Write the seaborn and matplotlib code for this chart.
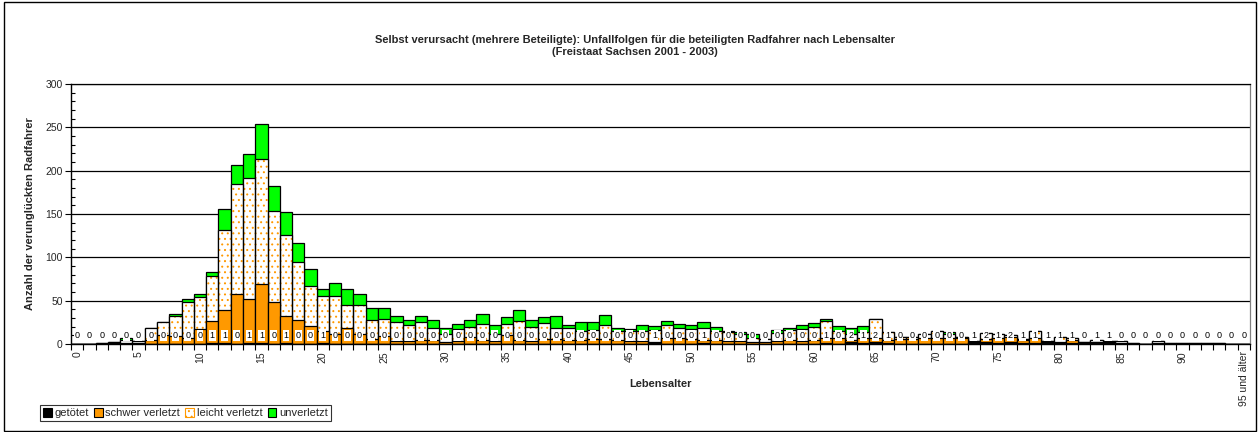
import numpy as np
import pandas as pd
import matplotlib
matplotlib.use("Agg")
import matplotlib.pyplot as plt
import seaborn as sns
from matplotlib.patches import Patch, Rectangle
from matplotlib.ticker import MultipleLocator

# ---------------- data ----------------
categories = [str(i) for i in range(95)] + ["95 und älter"]

getoetet = [0, 0, 0, 0, 0, 0, 0, 0, 0, 0,
            0, 1, 1, 0, 1, 1, 0, 1, 0, 0,
            1, 0, 0, 0, 0, 0, 0, 0, 0, 0,
            0, 0, 0, 0, 0, 0, 0, 0, 0, 0,
            0, 0, 0, 0, 0, 0, 0, 1, 0, 0,
            0, 1, 0, 0, 0, 0, 0, 0, 0, 0,
            0, 1, 0, 2, 1, 2, 1, 0, 0, 0,
            0, 0, 0, 1, 2, 1, 2, 1, 1, 1,
            1, 1, 0, 1, 1, 0, 0, 0, 0, 0,
            0, 0, 0, 0, 0, 0]

schwer = [0, 0, 0, 1, 1, 1, 5, 10, 9, 7,
          17, 25, 38, 58, 51, 68, 48, 31, 28, 21,
          14, 11, 18, 11, 6, 9, 4, 4, 5, 5,
          2, 4, 8, 5, 3, 10, 5, 4, 6, 6,
          5, 5, 6, 6, 5, 4, 3, 1, 7, 7,
          6, 4, 5, 4, 3, 2, 2, 4, 5, 4,
          5, 6, 7, 3, 6, 5, 4, 6, 6, 7,
          7, 7, 7, 1, 4, 6, 6, 4, 6, 1,
          1, 4, 1, 1, 1, 1, 0, 0, 1, 0,
          0, 0, 0, 0, 0, 0]

leicht = [0, 0, 1, 1, 4, 3, 13, 15, 23, 42,
          37, 52, 92, 127, 140, 145, 106, 94, 67, 46,
          40, 44, 27, 34, 22, 20, 21, 18, 20, 14,
          9, 13, 12, 18, 9, 13, 21, 16, 18, 13,
          13, 10, 10, 16, 10, 11, 12, 14, 15, 12,
          11, 13, 10, 10, 8, 5, 4, 9, 11, 13,
          15, 19, 8, 7, 7, 22, 9, 2, 2, 4,
          8, 5, 1, 1, 7, 4, 2, 1, 8, 2,
          6, 2, 1, 3, 2, 3, 1, 0, 2, 1,
          1, 1, 1, 1, 0, 0]

unverletzt = [0, 0, 0, 0, 2, 0, 0, 0, 3, 3,
              4, 5, 25, 21, 27, 40, 28, 26, 22, 19,
              8, 15, 18, 13, 13, 12, 7, 6, 7, 9,
              7, 6, 8, 12, 10, 8, 13, 8, 7, 13,
              4, 10, 9, 12, 3, 2, 7, 5, 5, 4,
              5, 7, 5, 1, 3, 5, 0, 3, 3, 5,
              4, 3, 6, 7, 7, 0, 0, 0, 0, 1,
              0, 2, 0, 0, 0, 0, 0, 0, 0, 0,
              0, 0, 0, 0, 0, 0, 0, 0, 0, 0,
              0, 0, 0, 0, 0, 0]

series_names = ["getötet", "schwer verletzt", "leicht verletzt", "unverletzt"]
yticks = [0, 50, 100, 150, 200, 250, 300]
xtick_positions = list(range(0, 96, 5))
xtick_labels = [str(i) for i in range(0, 95, 5)] + ["95 und älter"]

# ---------------- style ----------------
sns.set_theme(style="white")
plt.rcParams['font.family'] = ['Liberation Sans', 'DejaVu Sans']
plt.rcParams['hatch.linewidth'] = 0.7

ORANGE = "#FF9900"
GREEN = "#00FF00"

W, H = 1260, 432
fig = plt.figure(figsize=(W / 100, H / 100), dpi=100)
fig.patch.set_facecolor("white")
ax = fig.add_axes([71 / W, 1 - 344 / H, (1250 - 71) / W, 260 / H])

g = np.array(getoetet)
c1 = g
c2 = c1 + np.array(schwer)
c3 = c2 + np.array(leicht)
c4 = c3 + np.array(unverletzt)
df = pd.DataFrame({"Lebensalter": categories, "c1": c1, "c2": c2, "c3": c3, "c4": c4})

common = dict(data=df, x="Lebensalter", order=categories, width=1.0,
              saturation=1, ax=ax, errorbar=None)
sns.barplot(y="c4", color=GREEN, edgecolor="black", linewidth=0.9, **common)
sns.barplot(y="c3", color="white", edgecolor=ORANGE, linewidth=0, hatch="...", **common)
sns.barplot(y="c3", fill=False, color="black", linewidth=0.9, **common)
sns.barplot(y="c2", color=ORANGE, edgecolor="black", linewidth=0.9, **common)
sns.barplot(y="c1", color="black", edgecolor="black", linewidth=0.9, **common)

# data labels for getötet
for i, v in enumerate(getoetet):
    ax.text(i, 9.5, str(v), ha="center", va="center", fontsize=6.5, color="black",
            bbox=dict(boxstyle="square,pad=0.1", fc="white", ec="none"), zorder=5)

# axes
ax.set_xlim(-0.5, 95.5)
ax.set_ylim(0, 300)
ax.set_yticks(yticks)
ax.yaxis.set_minor_locator(MultipleLocator(10))
ax.yaxis.grid(True, which="major", color="black", linewidth=0.9)
ax.set_axisbelow(True)
ax.set_xticks(xtick_positions)
ax.set_xticklabels(xtick_labels, rotation=90, fontsize=7.5)
ax.set_xticks(np.arange(-0.5, 96, 1), minor=True)
ax.tick_params(axis="x", which="major", length=0, pad=5)
ax.tick_params(axis="x", which="minor", length=4, width=0.8, direction="out", color="black", bottom=True)
ax.tick_params(axis="y", which="major", length=4, width=0.8, direction="out", color="black", left=True, labelsize=7.5, pad=2)
ax.tick_params(axis="y", which="minor", length=3, width=0.8, direction="in", color="black", left=True)
ax.set_xlabel("")
ax.set_ylabel("")
for side in ["left", "bottom"]:
    ax.spines[side].set_color("black")
    ax.spines[side].set_linewidth(1.0)
ax.spines["top"].set_color("black")
ax.spines["top"].set_linewidth(0.9)
ax.spines["right"].set_color("#808080")
ax.spines["right"].set_linewidth(0.9)

# texts
fig.text(0.504, 1 - 40 / H,
         "Selbst verursacht (mehrere Beteiligte): Unfallfolgen für die beteiligten Radfahrer nach Lebensalter",
         ha="center", va="center", fontsize=8, fontweight="bold")
fig.text(0.504, 1 - 52 / H, "(Freistaat Sachsen 2001 - 2003)",
         ha="center", va="center", fontsize=8, fontweight="bold")
fig.text(30 / W, 1 - 214 / H, "Anzahl der verunglückten Radfahrer", rotation=90,
         ha="center", va="center", fontsize=8, fontweight="bold")
fig.text(660 / W, 1 - 384 / H, "Lebensalter", ha="center", va="center",
         fontsize=8, fontweight="bold")

# legend
handles = [
    Patch(facecolor="black", edgecolor="black", linewidth=0.8),
    Patch(facecolor=ORANGE, edgecolor="black", linewidth=0.8),
    Patch(facecolor="white", edgecolor=ORANGE, hatch="...", linewidth=0.8),
    Patch(facecolor=GREEN, edgecolor="black", linewidth=0.8),
]
leg = fig.legend(handles, series_names, loc="lower left",
                 bbox_to_anchor=(40 / W, 1 - 421 / H), bbox_transform=fig.transFigure,
                 ncol=4, fontsize=8, frameon=True, fancybox=False,
                 edgecolor="black", handlelength=0.8, handleheight=0.8,
                 handletextpad=0.25, columnspacing=0.45, borderpad=0.25,
                 borderaxespad=0)
leg.get_frame().set_linewidth(0.8)

# outer chart border
fig.patches.append(Rectangle((4 / W, 1.5 / H), 1252 / W, 429 / H, transform=fig.transFigure,
                             fill=False, edgecolor="black", linewidth=1.0))

fig.savefig("out.png", dpi=100)
